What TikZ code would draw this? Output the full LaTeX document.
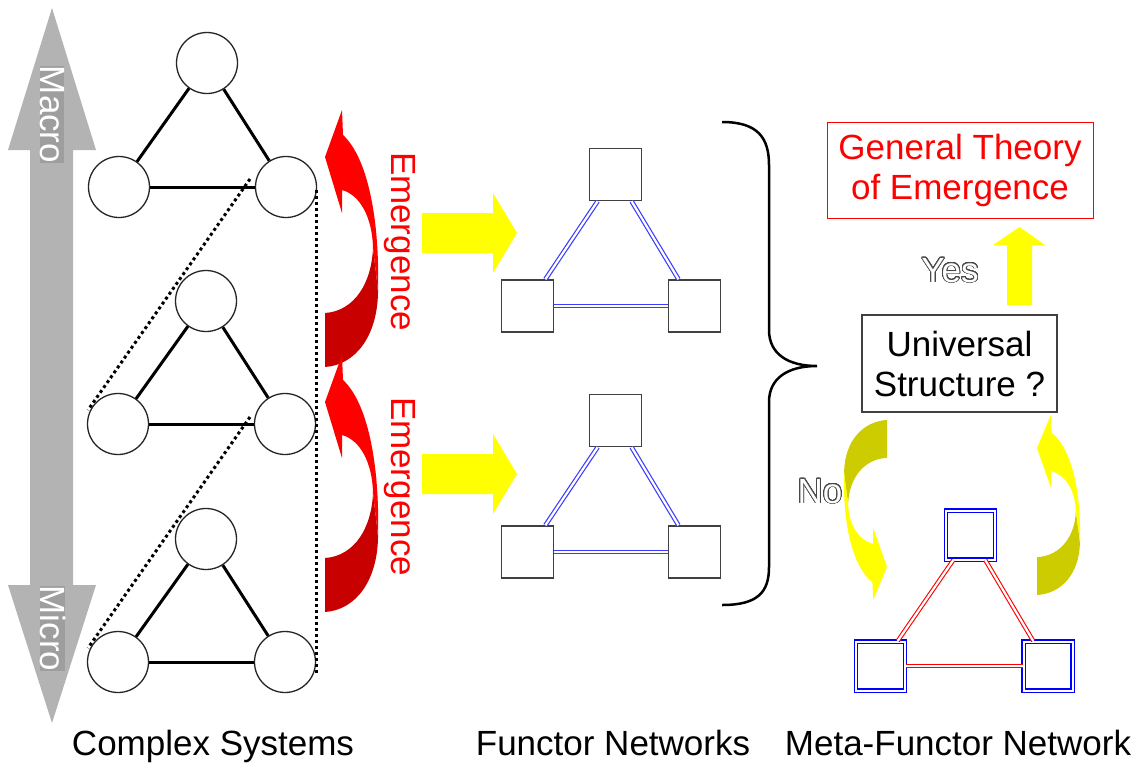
\documentclass[tikz,border=0pt]{standalone}
\usepackage{fontspec}
\setmainfont{Liberation Sans}
\usepackage{contour}
\contourlength{0.8pt}
\contournumber{32}
\definecolor{emred}{RGB}{255,0,0}
\definecolor{emdark}{RGB}{200,0,0}
\definecolor{ylw}{RGB}{255,255,0}
\definecolor{olivey}{RGB}{204,204,0}
\definecolor{arrgray}{RGB}{179,179,179}
\definecolor{lblgray}{RGB}{158,158,158}
\definecolor{fblue}{RGB}{60,60,255}
% curved arrow in local coords (u right, v up), origin = outer corner of tail
\newcommand{\emgarrow}[2]{%
  \fill[#2] (0,54) .. controls (30,56) and (47,85) .. (48,120)
     .. controls (50,100) and (52,88) .. (53,74)
     .. controls (52,30) and (30,2) .. (0,0) -- cycle;
  \fill[#1] (17,257) -- (18,232) .. controls (42,210) and (55,150) .. (53,74)
     .. controls (52,88) and (50,100) .. (48,120)
     .. controls (47,150) and (35,172) .. (17,177) -- (17,154) -- (0,210) -- cycle;
}
\begin{document}
\begin{tikzpicture}[x=1pt,y=-1pt,
  lbl/.style={font=\fontsize{35}{40}\selectfont, inner sep=0pt},
  cnode/.style={circle, draw=black!85, line width=1.3pt, fill=white, minimum size=61pt, inner sep=0pt},
  cedge/.style={line width=3pt, black},
  dotline/.style={line width=3pt, dash pattern=on 3pt off 3pt, black},
  fsq/.style={rectangle, draw=black!75, line width=1.4pt, fill=white, minimum size=52pt, inner sep=0pt},
  fedge/.style={draw=fblue, double=white, double distance=2.2pt, line width=1.2pt},
  msq/.style={rectangle, draw=blue, double=white, double distance=2pt, line width=1.2pt, fill=white, minimum size=49pt, inner sep=0pt},
  medge/.style={draw=red, double=white, double distance=2.2pt, line width=1.1pt},
  ybar/.style={fill=ylw}
]
\fill[white] (0,0) rectangle (1142,766);
\useasboundingbox (0,0) rectangle (1142,766);

% gray macro-micro double arrow
\fill[arrgray] (52,8) -- (96,150) -- (73,150) -- (73,585) -- (96,585) -- (52,723)
  -- (8,585) -- (30,585) -- (30,150) -- (8,150) -- cycle;
\node[lbl, rotate=-90, anchor=base, text=white, fill=lblgray] (macro) at (40,114.5) {Macro};
\node[lbl, rotate=-90, anchor=base, text=white, fill=lblgray] (micro) at (40,628.5) {Micro};

% complex systems triangles
\node[cnode] (a1) at (207,63) {};
\node[cnode] (b1) at (119,187) {};
\node[cnode] (c1) at (286,187) {};
\node[cnode] (a2) at (206,301) {};
\node[cnode] (b2) at (118,424) {};
\node[cnode] (c2) at (285,424) {};
\node[cnode] (a3) at (206,539) {};
\node[cnode] (b3) at (118,662) {};
\node[cnode] (c3) at (285,662) {};
\foreach \i in {1,2,3}{
  \draw[cedge] (a\i) -- (b\i);
  \draw[cedge] (a\i) -- (c\i);
  \draw[cedge] (b\i) -- (c\i);
}
% dotted projection lines
\coordinate (p1) at (250,179);
\coordinate (q1) at (88,410);
\coordinate (p2) at (250,417);
\coordinate (q2) at (88,648);
\coordinate (v1) at (316,190);
\coordinate (v2) at (316,675);
\draw[dotline] (p1) -- (q1);
\draw[dotline] (p2) -- (q2);
\draw[dotline] (v1) -- (v2);

% red emergence arrows
\begin{scope}[shift={(325,367)}, yscale=-1]
  \emgarrow{emred}{emdark}
\end{scope}
\begin{scope}[shift={(325,612)}, yscale=-1]
  \emgarrow{emred}{emdark}
\end{scope}
\node[lbl, rotate=-90, anchor=base, text=emred] (em1) at (391,241.5) {Emergence};
\node[lbl, rotate=-90, anchor=base, text=emred] (em2) at (391,486.5) {Emergence};

% yellow block arrows
\fill[ybar] (422,213) -- (493,213) -- (493,193) -- (517,233) -- (493,273) -- (493,253) -- (422,253) -- cycle;
\fill[ybar] (422,454) -- (493,454) -- (493,434) -- (517,474) -- (493,514) -- (493,494) -- (422,494) -- cycle;

% functor networks
\node[fsq] (f1t) at (615.5,174.5) {};
\node[fsq] (f1l) at (527.5,306) {};
\node[fsq] (f1r) at (694.5,306) {};
\node[fsq] (f2t) at (615.5,420.5) {};
\node[fsq] (f2l) at (527.5,552) {};
\node[fsq] (f2r) at (694.5,552) {};
\foreach \i in {1,2}{
  \draw[fedge] (f\i t) -- (f\i l);
  \draw[fedge] (f\i t) -- (f\i r);
  \draw[fedge] (f\i l) -- (f\i r);
}

% brace
\draw[line width=2.5pt] (722,122) .. controls (758,122) and (769,138) .. (769,165)
  -- (769,330) .. controls (769,354) and (788,366) .. (817,366)
  .. controls (788,366) and (769,378) .. (769,402)
  -- (769,567) .. controls (769,592) and (758,605) .. (722,605);

% general theory box
\node[lbl, draw=red, line width=1pt, text=emred, align=center, minimum width=266pt, minimum height=96pt] (gt) at (960,170) {General Theory\\of Emergence};
% universal structure box
\node[lbl, draw=black!75, line width=1.4pt, fill=white, align=center, minimum width=195pt, minimum height=97pt] (us) at (959.5,363.5) {Universal\\Structure ?};

% yes arrow
\fill[ybar] (1007,305) -- (1007,245) -- (993,245) -- (1019.5,227) -- (1045,245) -- (1032,245) -- (1032,305) -- cycle;
\node[lbl, anchor=base, text=white] (yes) at (950,282) {\contour{black!72}{Yes}};

% yellow curved arrows
\begin{scope}[shift={(887,420)}, xscale=-0.81, yscale=0.70]
  \emgarrow{ylw}{olivey}
\end{scope}
\begin{scope}[shift={(1037,595)}, xscale=0.81, yscale=-0.70]
  \emgarrow{ylw}{olivey}
\end{scope}
\node[lbl, anchor=base, text=white] (no) at (820,503) {\contour{black!72}{No}};

% meta-functor network
\node[msq] (mt) at (970.5,535) {};
\node[msq] (ml) at (880.5,666) {};
\node[msq] (mr) at (1048,666) {};
\draw[medge] (mt) -- (ml);
\draw[medge] (mt) -- (mr);
\draw[medge] (ml) -- (mr);

% bottom labels
\node[lbl, anchor=base] (lcs) at (213,755) {Complex Systems};
\node[lbl, anchor=base] (lfn) at (613,755) {Functor Networks};
\node[lbl, anchor=base] (lmf) at (958,755) {Meta-Functor Network};
\end{tikzpicture}
\end{document}
